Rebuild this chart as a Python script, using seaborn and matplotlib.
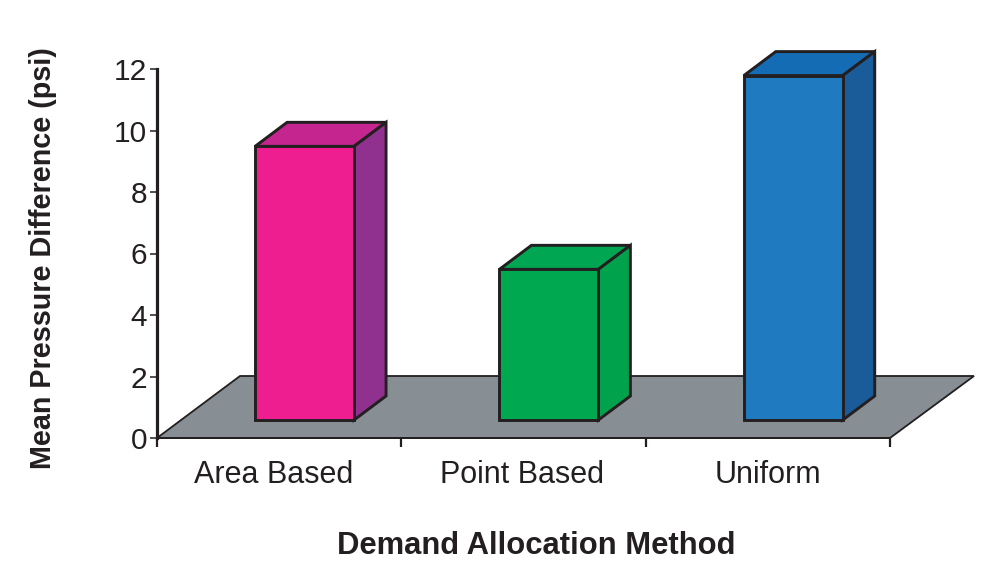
import matplotlib
matplotlib.use("Agg")
import matplotlib.pyplot as plt
from matplotlib.patches import Polygon
import seaborn as sns

methods = ["Area Based", "Point Based", "Uniform"]
pressure_diff = [8.9, 4.9, 11.2]
front_colors = ["#EE1E91", "#00A94F", "#1F7ABF"]
top_colors = ["#C4258F", "#00A651", "#146CB5"]
side_colors = ["#90308F", "#00A24C", "#1A5C9A"]
y_ticks = [0, 2, 4, 6, 8, 10, 12]

INK = "#231F20"
FLOOR = "#878E94"

sns.set_theme(style="white")
plt.rcParams["font.family"] = ["Liberation Sans", "DejaVu Sans"]

W, H = 989, 561
fig = plt.figure(figsize=(W / 100, H / 100), dpi=100)
ax = fig.add_axes([157 / W, 1 - 438 / H, (890 - 157) / W, (438 - 69) / H])

x_lo, x_hi = -0.604, 2.396
ax.set_xlim(x_lo, x_hi)
ax.set_ylim(0, 12)

# Pseudo-3D depth expressed in data units
px_x = (x_hi - x_lo) / (890 - 157)
px_y = 12 / (438 - 69)
bar_dx, bar_dy = 32 * px_x, 24 * px_y
floor_dx, floor_dy = 84 * px_x, 62 * px_y
base = 18 * px_y
bar_width = 0.405

# Floor plane under the bars
floor = Polygon(
    [(x_lo, 0), (x_hi, 0), (x_hi + floor_dx, floor_dy), (x_lo + floor_dx - 1 * px_x, floor_dy)],
    closed=True, facecolor=FLOOR, edgecolor=INK, linewidth=1.3, clip_on=False, zorder=1,
)
ax.add_patch(floor)

# Front faces
sns.barplot(
    x=methods, y=pressure_diff, hue=methods, palette=front_colors, legend=False,
    width=bar_width, bottom=base, saturation=1, edgecolor=INK, linewidth=2.1,
    ax=ax, zorder=4,
)
ax.set_xlim(x_lo, x_hi)
ax.set_ylim(0, 12)

# Top and side faces follow from each bar's value
for i, val in enumerate(pressure_diff):
    left, right = i - bar_width / 2, i + bar_width / 2
    low, high = base, base + val
    top = Polygon(
        [(left, high), (right, high), (right + bar_dx, high + bar_dy), (left + bar_dx, high + bar_dy)],
        closed=True, facecolor=top_colors[i], edgecolor=INK, linewidth=2.1,
        joinstyle="miter", clip_on=False, zorder=3,
    )
    side = Polygon(
        [(right, low), (right + bar_dx, low + bar_dy), (right + bar_dx, high + bar_dy), (right, high)],
        closed=True, facecolor=side_colors[i], edgecolor=INK, linewidth=2.1,
        joinstyle="miter", clip_on=False, zorder=3,
    )
    ax.add_patch(top)
    ax.add_patch(side)

# Axes frame
sns.despine(ax=ax, top=True, right=True)
ax.spines["left"].set_linewidth(2.3)
ax.spines["left"].set_color(INK)
ax.spines["left"].set_zorder(5)
ax.spines["bottom"].set_linewidth(1.3)
ax.spines["bottom"].set_color(INK)
ax.spines["bottom"].set_zorder(2)

ax.set_yticks(y_ticks)
ax.tick_params(axis="y", which="major", left=True, length=5, width=1.1, color=INK,
               labelsize=21.5, labelcolor=INK, pad=2)

# Tick marks sit at category boundaries, labels between them
ax.set_xticks([x_lo, x_lo + 1, x_lo + 2, x_hi], labels=[])
ax.set_xticks([-0.127, 0.889, 1.897], labels=methods, minor=True)
ax.tick_params(axis="x", which="major", bottom=True, length=6.5, width=1.6, color=INK)
ax.tick_params(axis="x", which="minor", bottom=False, length=0, labelsize=22,
               labelcolor=INK, pad=16)

ax.set_xlabel("Demand Allocation Method", fontsize=22.3, fontweight="bold", color=INK)
ax.xaxis.set_label_coords((536 - 157) / (890 - 157), -(546 - 438) / (438 - 69), transform=ax.transAxes)
ax.xaxis.label.set_verticalalignment("center")
ax.set_ylabel("Mean Pressure Difference (psi)", fontsize=20.7, fontweight="bold", color=INK)
ax.yaxis.set_label_coords(-(157 - 43) / (890 - 157), (438 - 258) / (438 - 69), transform=ax.transAxes)
ax.yaxis.label.set_verticalalignment("center")

fig.savefig("out.png", dpi=100, facecolor="white")
